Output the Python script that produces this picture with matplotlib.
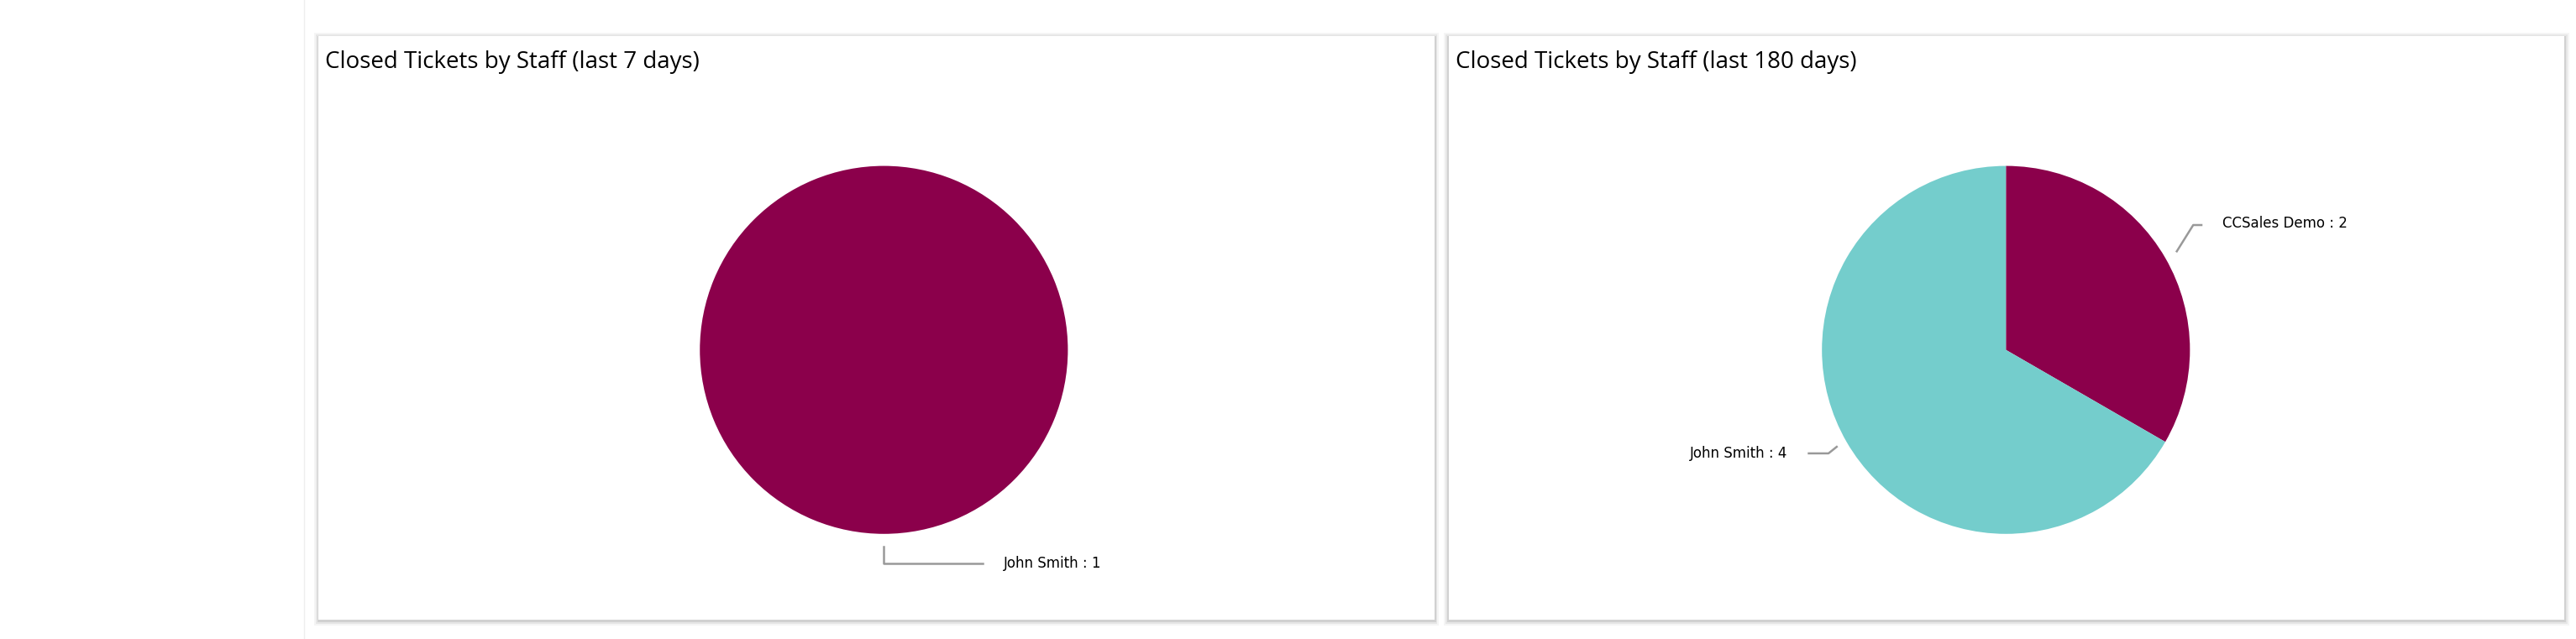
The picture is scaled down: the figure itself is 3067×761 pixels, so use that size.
import matplotlib.pyplot as plt
from matplotlib.patches import Rectangle

# data
titles = ["Closed Tickets by Staff (last 7 days)", "Closed Tickets by Staff (last 180 days)"]
labels_7 = ["John Smith"]
values_7 = [1]
labels_180 = ["CCSales Demo", "John Smith"]
values_180 = [2, 4]
colors_7 = ["#8B004B"]
colors_180 = ["#8B004B", "#74CDCC"]

W, H = 1568, 389  # layout units (screen px / 1.956)
fig = plt.figure(figsize=(30.67, 7.61), dpi=100)
ax = fig.add_axes([0, 0, 1, 1])
ax.set_xlim(0, W)
ax.set_ylim(0, H)
ax.axis("off")

def Y(y):
    return H - y

# sidebar divider
ax.plot([185, 185], [0, H], color="#eeeeee", lw=1)

# panels with soft shadow
for x0 in (194, 882):
    for k, a in ((3, 0.04), (2, 0.06), (1, 0.09)):
        ax.add_patch(Rectangle((x0 - k, Y(377) - k - 1), 679 + 2 * k, 355 + 2 * k,
                               facecolor="black", alpha=a, lw=0, zorder=1))
    ax.add_patch(Rectangle((x0, Y(377)), 679, 355, facecolor="white", lw=0, zorder=2))

ax.text(198, Y(38), titles[0], fontsize=20, family="Open Sans", va="center", zorder=3)
ax.text(886, Y(38), titles[1], fontsize=20, family="Open Sans", va="center", zorder=3)

ax.pie(values_7, colors=colors_7, center=(538, Y(213)), radius=112, startangle=90,
       counterclock=False, frame=True, wedgeprops=dict(lw=0, zorder=3))
ax.pie(values_180, colors=colors_180, center=(1221, Y(213)), radius=112, startangle=90,
       counterclock=False, frame=True, wedgeprops=dict(lw=0, zorder=3))
ax.set_xlim(0, W)
ax.set_ylim(0, H)
ax.set_aspect("auto")
ax.axis("off")

lc = "#999999"
ax.plot([538, 538, 598], [Y(333), Y(343), Y(343)], color=lc, lw=1.8, zorder=4)
ax.text(611, Y(343), f"{labels_7[0]} : {values_7[0]}", fontsize=12, va="center", zorder=4)

ax.plot([1325, 1335, 1340], [Y(153), Y(137), Y(137)], color=lc, lw=1.8, zorder=4)
ax.text(1353, Y(136), f"{labels_180[0]} : {values_180[0]}", fontsize=12, va="center", zorder=4)

ax.plot([1118, 1113, 1101], [Y(272), Y(276), Y(276)], color=lc, lw=1.8, zorder=4)
ax.text(1088, Y(276), f"{labels_180[1]} : {values_180[1]}", fontsize=12, va="center", ha="right", zorder=4)

fig.savefig("out.png", dpi=100, facecolor="white")
